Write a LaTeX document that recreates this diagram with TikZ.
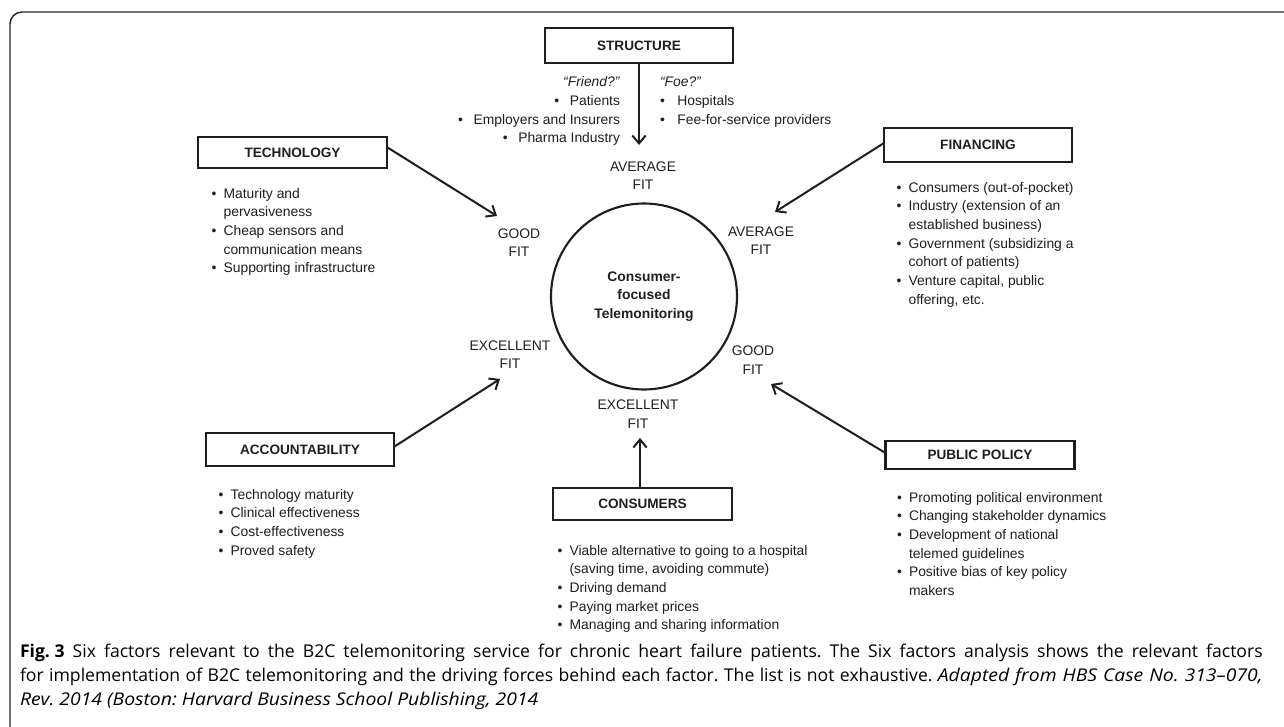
\documentclass[tikz,border=0pt]{standalone}
\usepackage{fontspec}
\setmainfont{Liberation Sans}
\newfontfamily\capfont{Open Sans}
\newfontfamily\capit[FakeStretch=1.1]{Open Sans}
\usetikzlibrary{arrows.meta}
\definecolor{ink}{HTML}{1E1E1E}
\newcommand{\bl}[1]{\rule{0pt}{9pt}\makebox[9pt][l]{\textbullet}#1}
\newcommand{\cl}[1]{\rule{0pt}{9pt}\hspace*{9pt}#1}
\newcommand{\capital}[1]{{\capit\itshape #1}}
\begin{document}
\begin{tikzpicture}[x=0.75pt,y=-0.75pt,
  every node/.style={inner sep=0pt,outer sep=0pt,text=ink},
  fbox/.style={draw=ink,line width=1.6pt,font=\fontsize{10.2}{14}\selectfont\bfseries},
  fitlbl/.style={align=center,font=\fontsize{10.4}{14}\selectfont},
  blist/.style={align=left,anchor=north west,font=\fontsize{10.4}{14}\selectfont},
  arr/.style={draw=ink,line width=1.5pt,-{Straight Barb[length=6pt,width=10pt,line width=1.5pt]}},
  capline/.style={anchor=base west,font=\capfont\fontsize{13.2}{18}\selectfont\frenchspacing,text=black}]
\useasboundingbox (0,0) rectangle (1284,727);
% frame
\draw[line width=1.1pt,draw=black!85,rounded corners=9pt] (1284,12) -- (10,12) -- (10,727);

% centre
\node[draw=ink,circle,line width=1.6pt,minimum size=139.5pt,align=center,
      font=\fontsize{10.4}{14}\selectfont\bfseries] (core) at (644,296.5)
      {Consumer-\\focused\\Telemonitoring};

% boxes
\node[fbox,minimum width=141pt,minimum height=26.25pt] (struct) at (639,45.5) {STRUCTURE};
\node[fbox,minimum width=141.75pt,minimum height=23.25pt] (tech) at (292.5,152.5) {TECHNOLOGY};
\node[fbox,minimum width=141pt,minimum height=25.5pt] (fin) at (978,145) {FINANCING};
\node[fbox,minimum width=141pt,minimum height=24.75pt] (acc) at (300,449.5) {ACCOUNTABILITY};
\node[fbox,minimum width=134.25pt,minimum height=24pt] (cons) at (642.5,504) {CONSUMERS};
\node[fbox,minimum width=141.75pt,minimum height=21pt] (pp) at (980,455) {PUBLIC POLICY};

% fit labels
\node[fitlbl] (fitS) at (643,175.5) {AVERAGE\\FIT};
\node[fitlbl] (fitT) at (519,242.5) {GOOD\\FIT};
\node[fitlbl] (fitF) at (761,240.5) {AVERAGE\\FIT};
\node[fitlbl] (fitA) at (510,354.5) {EXCELLENT\\FIT};
\node[fitlbl] (fitP) at (753,360) {GOOD\\FIT};
\node[fitlbl] (fitC) at (638,414) {EXCELLENT\\FIT};

% arrow tips
\coordinate (tipS) at (639,145);
\coordinate (tipT) at (497,216);
\coordinate (tipF) at (775,212);
\coordinate (tipA) at (500,379);
\coordinate (tipC) at (640,438);
\coordinate (tipP) at (771,384);

\draw[arr] (struct.south) -- (tipS);
\draw[arr] ([yshift=4pt]tech.east) -- (tipT);
\draw[arr] ([yshift=1.5pt]fin.west) -- (tipF);
\draw[arr] ([yshift=2pt]acc.east) -- (tipA);
\draw[arr] (cons.north -| tipC) -- (tipC);
\draw[arr] ([yshift=1.5pt]pp.west) -- (tipP);

% structure lists
\node[align=right,anchor=north east,font=\fontsize{10.4}{14}\selectfont] (friend) at (620,75)
  {\rule{0pt}{9pt}\textit{“Friend?”}\\\textbullet\hspace{8pt}Patients\\\textbullet\hspace{8pt}Employers and Insurers\\\textbullet\hspace{8pt}Pharma Industry};
\node[blist] (foe) at (660,75)
  {\rule{0pt}{9pt}\textit{“Foe?”}\\\makebox[13pt][l]{\textbullet}Hospitals\\\makebox[13pt][l]{\textbullet}Fee-for-service providers};

% lists
\node[blist] (techl) at (211.6,186)
  {\bl{Maturity and}\\\cl{pervasiveness}\\\bl{Cheap sensors and}\\\cl{communication means}\\\bl{Supporting infrastructure}};
\node[blist] (finl) at (896.6,180)
  {\bl{Consumers (out-of-pocket)}\\\bl{Industry (extension of an}\\\cl{established business)}\\\bl{Government (subsidizing a}\\\cl{cohort of patients)}\\\bl{Venture capital, public}\\\cl{offering, etc.}};
\node[blist] (accl) at (218.6,487)
  {\bl{Technology maturity}\\\bl{Clinical effectiveness}\\\bl{Cost-effectiveness}\\\bl{Proved safety}};
\node[blist] (consl) at (557.6,543)
  {\bl{Viable alternative to going to a hospital}\\\cl{(saving time, avoiding commute)}\\\bl{Driving demand}\\\bl{Paying market prices}\\\bl{Managing and sharing information}};
\node[blist] (ppl) at (897,490)
  {\bl{Promoting political environment}\\\bl{Changing stakeholder dynamics}\\\bl{Development of national}\\\cl{telemed guidelines}\\\bl{Positive bias of key policy}\\\cl{makers}};

% caption
\node[capline] (cap1) at (20,657) {\makebox[932pt][s]{\mbox{\textbf{Fig. 3}} Six factors relevant to the B2C telemonitoring service for chronic heart failure patients. The Six factors analysis shows the relevant factors}};
\node[capline] (cap2) at (20,681) {\makebox[932pt][s]{for implementation of B2C telemonitoring and the driving forces behind each factor. The list is not exhaustive. \capital{Adapted from HBS Case No. 313–070,}}};
\node[capline] (cap3) at (20,705) {\capital{Rev. 2014 (Boston: Harvard Business School Publishing, 2014}};
\end{tikzpicture}
\end{document}
